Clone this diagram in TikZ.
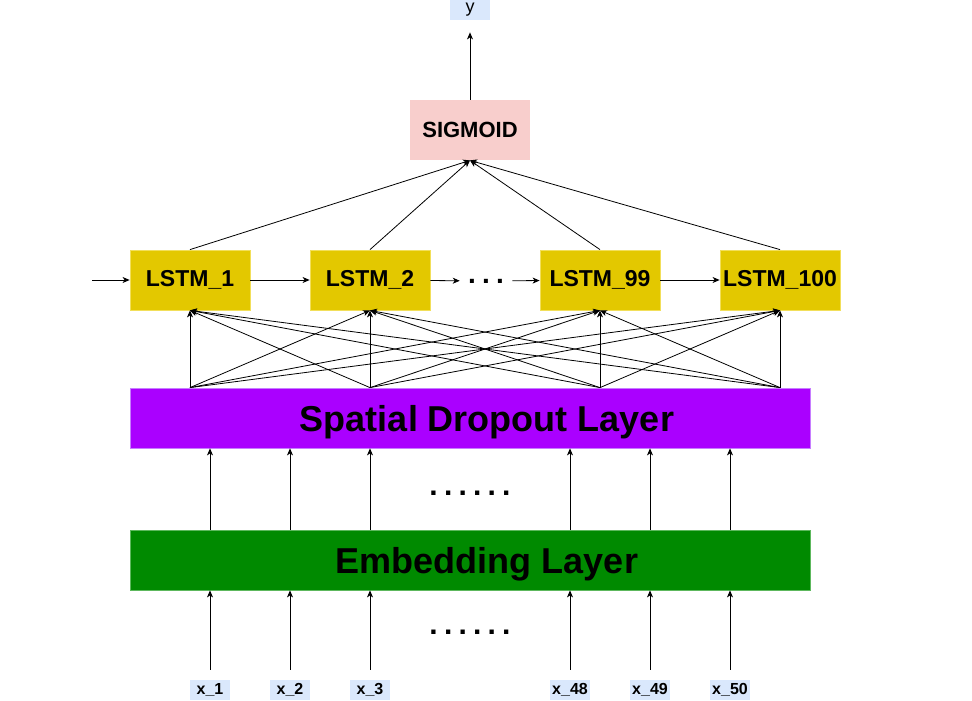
\documentclass[tikz,border=0pt]{standalone}
\usepackage{fontspec}
\setmainfont{Liberation Sans}
\usetikzlibrary{arrows.meta}

\definecolor{lstmfill}{HTML}{E3C800}
\definecolor{lstmline}{HTML}{F2DF5A}
\definecolor{sigpink}{HTML}{F8CECC}
\definecolor{tagblue}{HTML}{DAE8FC}
\definecolor{dropviolet}{HTML}{AA00FF}
\definecolor{dropline}{HTML}{C77DFF}
\definecolor{embgreen}{HTML}{008A00}
\definecolor{embline}{HTML}{5DB85D}

\begin{document}
\begin{tikzpicture}[x=1pt, y=-1pt, line width=0.8pt,
  >={Stealth[length=7pt, width=6pt, inset=2pt]},
  lstm/.style={fill=lstmfill, draw=lstmline, minimum width=120pt, minimum height=60pt,
    inner sep=0pt, font=\fontsize{23}{27}\selectfont\bfseries},
  layer/.style={minimum width=680pt, minimum height=60pt, inner sep=0pt, text depth=0pt,
    font=\fontsize{36}{40}\selectfont\bfseries},
  tag/.style={fill=tagblue, minimum width=40pt, minimum height=20pt, inner sep=0pt,
    font=\fontsize{16}{18}\selectfont\bfseries}]
  \useasboundingbox (0,0) rectangle (972,701);

  % Output
  \node[tag, font=\fontsize{18}{20}\selectfont] (yout) at (470,10) {y};
  \node[fill=sigpink, minimum width=120pt, minimum height=60pt, inner sep=0pt,
    font=\fontsize{22}{26}\selectfont\bfseries] (sig) at (470,130) {SIGMOID};

  % LSTM chain
  \coordinate (start) at (92,280);
  \node[lstm] (l1) at (190,280) {LSTM\_1};
  \node[lstm] (l2) at (370,280) {LSTM\_2};
  \node[inner xsep=8pt, inner ysep=0pt, font=\fontsize{28}{30}\selectfont\bfseries]
    (hd) at (486,281) {.\kern6.2pt.\kern6.2pt.};
  \node[lstm] (l99) at (600,280) {LSTM\_99};
  \node[lstm] (l100) at (780,280) {LSTM\_100};

  % Layers
  \node[layer, fill=dropviolet, draw=dropline] (drop) at (470,418)
    {\hspace*{34pt}Spatial Dropout Layer};
  \node[layer, fill=embgreen, draw=embline] (emb) at (470,560)
    {\hspace*{34pt}Embedding Layer};
  \node[inner sep=0pt, font=\fontsize{30}{34}\selectfont\bfseries]
    (dmid) at (470,493) {.\kern6.2pt.\kern6.2pt.\kern6.2pt.\kern6.2pt.\kern6.2pt.};
  \node[inner sep=0pt, font=\fontsize{30}{34}\selectfont\bfseries]
    (dlow) at (470,632) {.\kern6.2pt.\kern6.2pt.\kern6.2pt.\kern6.2pt.\kern6.2pt.};

  % Inputs
  \foreach \n/\px in {1/210,2/290,3/370,48/570,49/650,50/730}
    \node[tag] (x\n) at (\px,690) {x\_\n};

  % Arrows
  \foreach \n in {1,2,3,48,49,50} {
    \draw[->, shorten <=10pt] (x\n.north) -- (emb.south -| x\n);
    \draw[->] (emb.north -| x\n) -- (drop.south -| x\n);
  }
  \foreach \s in {l1,l2,l99,l100} {
    \foreach \t in {l1,l2,l99,l100}
      \draw[->] (drop.north -| \s) -- (\t.south);
    \draw[->] (\s.north) -- (sig.south);
  }
  \draw[->] (start) -- (l1);
  \draw[->] (l1) -- (l2);
  \draw[->] (l2) -- (hd);
  \draw[->] (hd) -- (l99);
  \draw[->] (l99) -- (l100);
  \draw[->, shorten >=12pt] (sig.north) -- (yout.south);
\end{tikzpicture}
\end{document}
